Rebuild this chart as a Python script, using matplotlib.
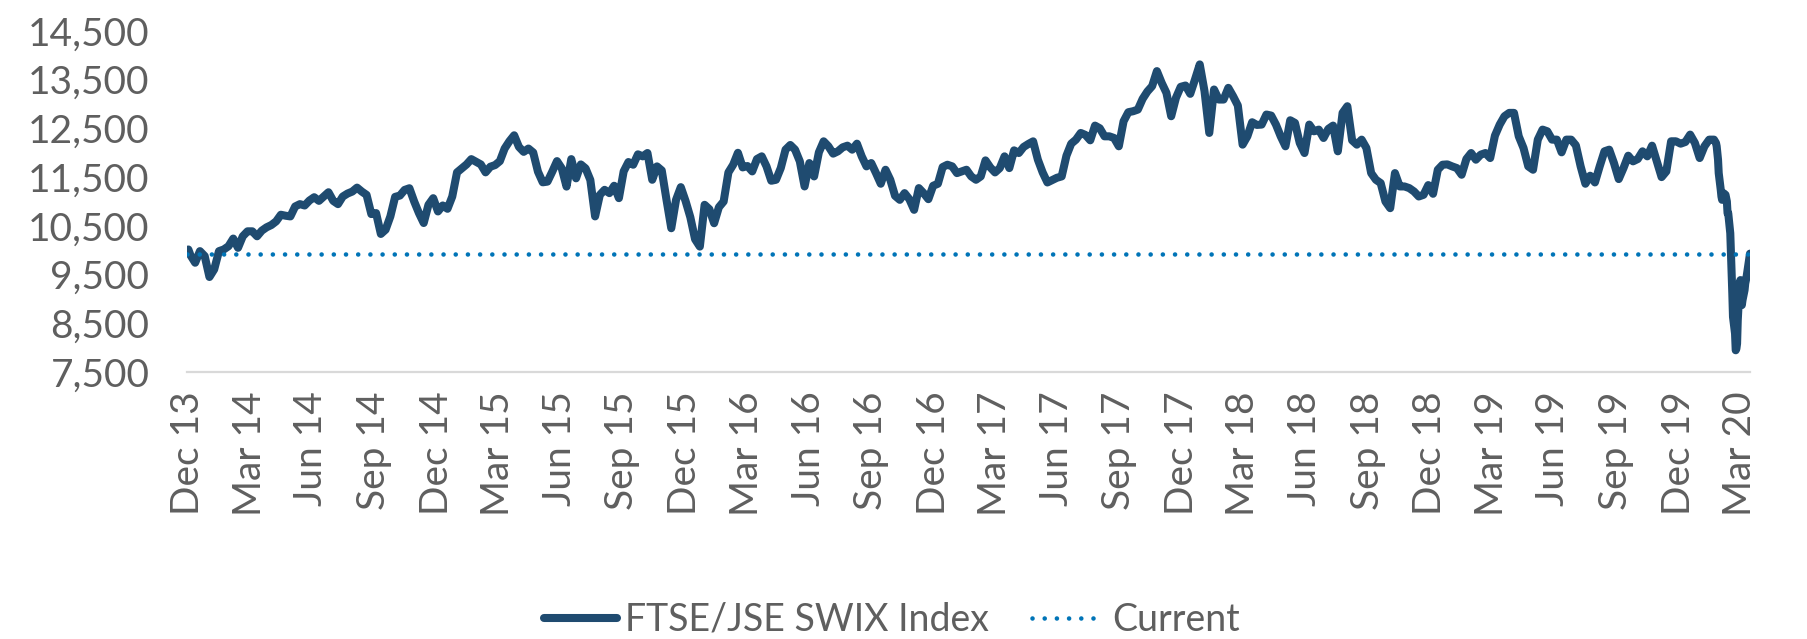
import matplotlib
matplotlib.use("Agg")
import matplotlib.pyplot as plt
from matplotlib.lines import Line2D
import pandas as pd

# ---------------- data ----------------
series_name = "FTSE/JSE SWIX Index"
current_name = "Current"

first_date = "2013-12-31"
first_value = 10015

# weekly closes (Fridays) from 2014-01-03 to 2020-02-21
weekly_start = "2014-01-03"
weekly_values = [
    9900, 9743, 9981, 9880, 9450, 9607, 9981, 10015, 10082, 10239,
    10049, 10286, 10388, 10388, 10286, 10402, 10470, 10517, 10592, 10728,
    10708, 10694, 10898, 10946, 10918, 11020, 11088, 11013, 11102, 11190,
    11013, 10946, 11102, 11163, 11204, 11285, 11204, 11136, 10742, 10762,
    10334, 10422, 10694, 11095, 11122, 11238, 11272, 11000, 10762, 10558,
    10932, 11068, 10796, 10918, 10850, 11102, 11598, 11680, 11761, 11870,
    11815, 11761, 11598, 11714, 11748, 11829, 12087, 12237, 12359, 12121,
    12019, 12087, 12006, 11612, 11394, 11408, 11612, 11829, 11680, 11306,
    11870, 11476, 11761, 11680, 11442, 10694, 11136,
    11240, 11172, 11323, 11069, 11618, 11810, 11755, 11968, 11927, 11995,
    11446, 11721, 11638, 11034, 10451, 11034, 11295, 11011, 10678, 10225,
    10074, 10932, 10842, 10554, 10883, 11000, 11597, 11755, 12000, 11700,
    11728, 11618, 11872, 11927, 11721, 11426, 11446, 11687, 12064, 12160,
    12064, 11824, 11309, 11789, 11515, 12009, 12235, 12133, 11982, 12030,
    12112, 12146, 12064, 12187, 11927, 11721, 11789, 11583, 11364, 11652,
    11446, 11117, 11034, 11172, 11048, 10829, 11275, 11172, 11048, 11323,
    11364, 11707, 11755, 11721, 11583, 11618, 11652,
    11515, 11446, 11515, 11844, 11700, 11597, 11686, 11927, 11686, 12050,
    11995, 12119, 12181, 12235, 11858, 11597, 11391, 11439, 11487, 11515,
    11940, 12187, 12270, 12407, 12366, 12256, 12558, 12503, 12338, 12338,
    12304, 12133, 12647, 12833, 12853, 12887, 13107, 13258, 13368, 13677,
    13436, 13230, 12750, 13128, 13354, 13381, 13210, 13505, 13814, 13265,
    12407, 13299, 13093, 13093, 13333, 13162, 12970, 12167, 12338, 12627,
    12572, 12579, 12785, 12764, 12579, 12338, 12133, 12668, 12613, 12201,
    11995, 12579, 12441, 12476, 12304, 12490, 12558, 12030, 12819, 12956,
    12256, 12167, 12270, 12098,
    11583, 11446, 11378, 11000, 10863, 11583, 11309, 11309, 11275, 11206,
    11103, 11137, 11337, 11158, 11652, 11755, 11762, 11721, 11686, 11549,
    11872, 11995, 11858, 11961, 11995, 11892, 12352, 12579, 12750, 12819,
    12819, 12338, 12098, 11721, 11652, 12270, 12476, 12441, 12270, 12270,
    12009, 12270, 12270, 12153, 11721, 11364, 11529, 11391, 11721, 12030,
    12064, 11789, 11460, 11686, 11940, 11824, 11872, 12030, 11927, 12146,
    11824, 11501, 11618, 12236, 12236, 12187, 12222, 12373, 12201, 11892,
    12133, 12270, 12270,
]

# daily closes through the March 2020 sell-off
crash_dates = [
    "2020-02-24", "2020-02-25", "2020-02-26", "2020-02-27", "2020-02-28",
    "2020-03-02", "2020-03-03", "2020-03-04", "2020-03-05", "2020-03-06",
    "2020-03-09", "2020-03-10", "2020-03-11", "2020-03-12", "2020-03-13",
    "2020-03-16", "2020-03-17", "2020-03-18", "2020-03-19", "2020-03-20",
    "2020-03-23", "2020-03-24", "2020-03-25", "2020-03-26", "2020-03-27",
    "2020-03-30", "2020-03-31", "2020-04-01", "2020-04-02", "2020-04-03",
    "2020-04-06", "2020-04-07", "2020-04-08", "2020-04-09", "2020-04-14",
]
crash_values = [
    12201, 12133, 11995, 11858, 11583,
    11240, 11103, 11034, 11137, 11172,
    11137, 11069, 11000, 10760, 10760,
    10348, 9936, 9525, 9113, 8632,
    8289, 7946, 7980, 8083, 8564,
    9353, 9387, 8975, 8873, 8975,
    9181, 9319, 9387, 9456, 9930,
]

y_ticks = [7500, 8500, 9500, 10500, 11500, 12500, 13500, 14500]
x_tick_first = "2013-12-31"
x_tick_last = "2020-03-31"
x_range = ("2013-12-29", "2020-04-14")

# ---------------- assemble series ----------------
weekly_dates = pd.date_range(weekly_start, periods=len(weekly_values), freq="7D")
dates = ([pd.Timestamp(first_date)] + list(weekly_dates)
         + [pd.Timestamp(d) for d in crash_dates])
values = [first_value] + list(weekly_values) + list(crash_values)
current_value = values[-1]

# ---------------- style ----------------
LINE_COLOR = "#1F4B70"
CUR_COLOR = "#0074B7"
TEXT_COLOR = "#5F5F5F"
plt.rcParams["font.family"] = ["Lato", "DejaVu Sans"]

fig = plt.figure(figsize=(18.07, 6.39), dpi=100)
ax = fig.add_axes([187 / 1807, 1 - 372 / 639, (1750 - 187) / 1807, (372 - 31) / 639])

ax.plot(dates, values, color=LINE_COLOR, lw=5.8, solid_joinstyle="round",
        solid_capstyle="round", zorder=2)
ax.plot([pd.Timestamp(x_range[0]), pd.Timestamp(x_range[1])],
        [current_value, current_value], color=CUR_COLOR, lw=3.3,
        linestyle=(0, (0.01, 2.65)), dash_capstyle="round", zorder=3)

ax.set_xlim(pd.Timestamp(x_range[0]), pd.Timestamp(x_range[1]))
ax.set_ylim(y_ticks[0], y_ticks[-1])
ax.set_yticks(y_ticks)
ax.set_yticklabels([f"{v:,}" for v in y_ticks])

tick_dates = pd.date_range(x_tick_first, x_tick_last, freq="3ME")
ax.set_xticks(tick_dates)
ax.set_xticklabels([d.strftime("%b %y") for d in tick_dates], rotation=90)

ax.tick_params(axis="y", length=0, pad=27, labelsize=28, labelcolor=TEXT_COLOR)
ax.tick_params(axis="x", length=0, pad=14, labelsize=28, labelcolor=TEXT_COLOR)

for s in ["top", "right", "left"]:
    ax.spines[s].set_visible(False)
ax.spines["bottom"].set_color("#D9D9D9")
ax.spines["bottom"].set_linewidth(1.6)
ax.grid(False)

handles = [
    Line2D([], [], color=LINE_COLOR, lw=5.8, solid_capstyle="round"),
    Line2D([], [], color=CUR_COLOR, lw=3.3, linestyle=(0, (0.01, 2.65)),
           dash_capstyle="round"),
]
fig.legend(handles, [series_name, current_name], loc="center",
           bbox_to_anchor=(0.4936, 0.03), ncol=2, frameon=False,
           fontsize=27, labelcolor=TEXT_COLOR, handlelength=1.95,
           handletextpad=0.19, columnspacing=1.15, borderpad=0)

fig.savefig("out.png", dpi=100, facecolor="white")
